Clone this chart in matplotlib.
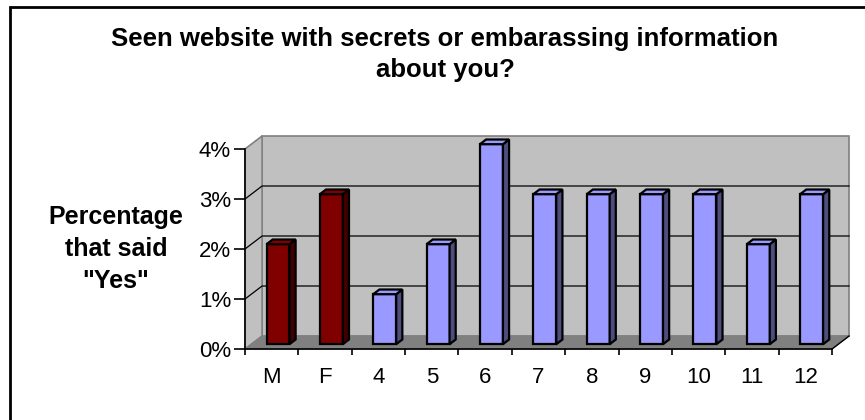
"""Excel-style 3D column chart: seen website with secrets about you"""

import matplotlib.pyplot as plt
from matplotlib.patches import Polygon, Rectangle

categories = ['M', 'F', '4', '5', '6', '7', '8', '9', '10', '11', '12']
values = [2, 3, 1, 2, 4, 3, 3, 3, 3, 2, 3]
y_ticks = [0, 1, 2, 3, 4]
y_ticklabels = ['0%', '1%', '2%', '3%', '4%']

front_colors = ['#800000'] * 2 + ['#9999ff'] * 9
side_colors = ['#400000'] * 2 + ['#4d4d80'] * 9
top_colors = ['#800000'] * 2 + ['#9999ff'] * 9

title_lines = ['Seen website with secrets or embarassing information', 'about you?']
ylabel_lines = ['Percentage', 'that said', '"Yes"']

plt.rcParams['font.family'] = ['Liberation Sans', 'DejaVu Sans']

W, H = 865, 420
fig = plt.figure(figsize=(W / 100, H / 100), dpi=100)
ax = fig.add_axes([245 / W, (H - 349) / H, (832 - 245) / W, 200 / H])
ax.set_facecolor('none')

n = len(categories)
ymax = y_ticks[-1]
ax.set_xlim(0, n)
ax.set_ylim(0, ymax)

# depth of the 3D box, in data units
DX, DY = 0.32, 0.26
# bars sit between these depth fractions
F0, F1 = 0.37, 0.73
BW = 0.43


def poly(pts, fc, ec, lw=1.0, z=1):
    ax.add_patch(Polygon(pts, closed=True, facecolor=fc, edgecolor=ec,
                         linewidth=lw, clip_on=False, zorder=z))


# walls
poly([(DX, DY), (n + DX, DY), (n + DX, ymax + DY), (DX, ymax + DY)],
     '#c0c0c0', '#808080', 1.2, 0.2)
poly([(0, 0), (DX, DY), (DX, ymax + DY), (0, ymax)],
     '#c0c0c0', '#808080', 1.2, 0.2)
# gridlines on back and side walls
for t in y_ticks[1:-1]:
    ax.plot([0, DX, n + DX], [t, t + DY, t + DY], color='black', lw=0.9,
            clip_on=False, zorder=0.3)
# floor
poly([(0, 0), (n, 0), (n + DX, DY), (DX, DY)], '#808080', '#808080', 0.8, 0.4)
ax.plot([n, n + DX], [0, DY], color='black', lw=1.0, clip_on=False, zorder=0.5)

# bars
for i, v in enumerate(values):
    x0 = i + 0.5 - BW / 2 + F0 * DX
    x1 = x0 + BW
    b = F0 * DY
    ddx = (F1 - F0) * DX
    ddy = (F1 - F0) * DY
    poly([(x0, b), (x1, b), (x1, v + b), (x0, v + b)],
         front_colors[i], 'black', 1.6, 2)
    poly([(x1, b), (x1 + ddx, b + ddy), (x1 + ddx, v + b + ddy), (x1, v + b)],
         side_colors[i], 'black', 1.6, 2)
    poly([(x0, v + b), (x1, v + b), (x1 + ddx, v + b + ddy), (x0 + ddx, v + b + ddy)],
         top_colors[i], 'black', 1.6, 2)

# axes
for s in ['top', 'right']:
    ax.spines[s].set_visible(False)
ax.spines['left'].set_linewidth(1.2)
ax.spines['bottom'].set_linewidth(1.2)
ax.set_xticks(range(n + 1))
ax.set_xticklabels([])
ax.set_xticks([i + 0.5 for i in range(n)], minor=True)
ax.set_xticklabels(categories, minor=True)
ax.tick_params(axis='x', which='major', length=4.5, width=1.2, direction='out')
ax.tick_params(axis='x', which='minor', length=0, pad=13, labelsize=16)
ax.set_yticks(y_ticks)
ax.set_yticklabels(y_ticklabels)
ax.tick_params(axis='y', length=8, width=1.2, pad=2, labelsize=16)

for line, base in zip(ylabel_lines, [224, 256, 288]):
    fig.text(116 / W, 1 - base / H, line, ha='center', va='baseline',
             fontsize=18, fontweight='bold')
for line, base in zip(title_lines, [46, 77]):
    fig.text(445 / W, 1 - base / H, line, ha='center', va='baseline',
             fontsize=18.5, fontweight='bold')

# chart border (runs off the right and bottom edges)
fig.patches.append(Rectangle((10 / W, -0.1), 1.0, 1 - 7 / H + 0.1,
                             transform=fig.transFigure, fill=False,
                             edgecolor='black', linewidth=2.0))

fig.savefig('out.png', dpi=100)
